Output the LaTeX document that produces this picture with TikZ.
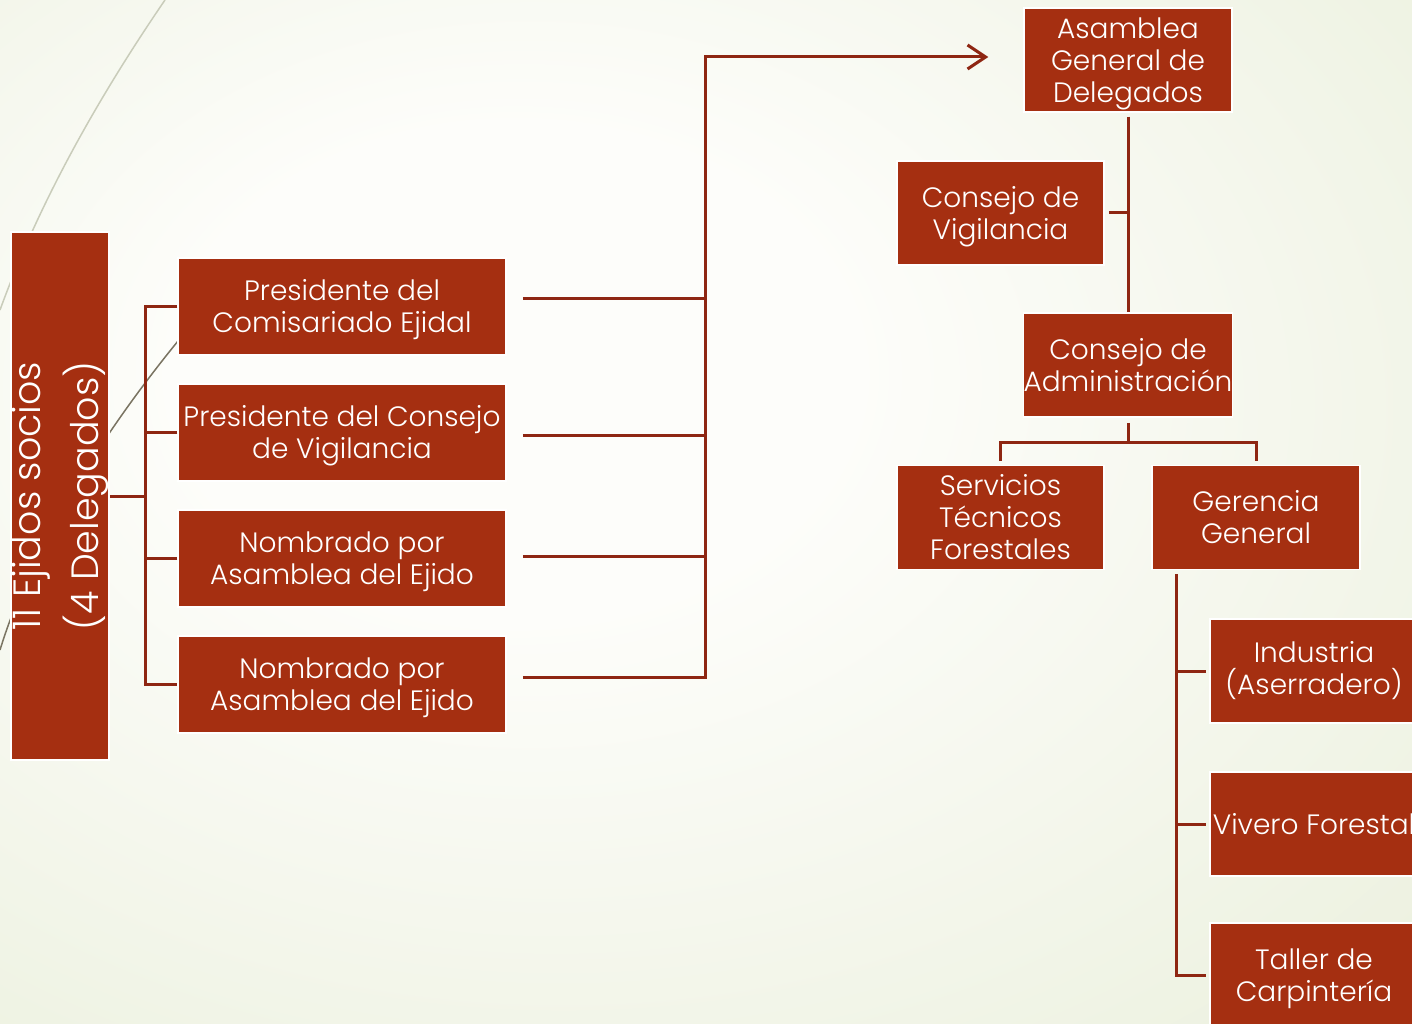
\documentclass[tikz,border=0pt]{standalone}
\usepackage{fontspec}
\setmainfont{Poppins Light}
\usetikzlibrary{arrows.meta,calc}
\definecolor{boxred}{HTML}{A52F11}
\definecolor{linered}{HTML}{8E2612}
\definecolor{bgouter}{HTML}{E0E8CC}
\definecolor{bginner}{HTML}{FDFDFA}
\definecolor{wisplight}{HTML}{C9CCBA}
\definecolor{wispdark}{HTML}{7A7462}
\pgfdeclareradialshading{bgshade}{\pgfpoint{-8bp}{8bp}}{color(0bp)=(bginner); color(12bp)=(bginner); color(60bp)=(bgouter); color(80bp)=(bgouter)}
\newcommand{\lowtext}[1]{\raisebox{-4pt}[\height][\depth]{\begin{tabular}{@{}c@{}}#1\end{tabular}}}
\begin{document}
\begin{tikzpicture}[x=1pt,y=-1pt,
  box/.style={draw=white, line width=1.5pt, fill=boxred, text=white, align=center,
    inner sep=0pt, minimum width=208pt, minimum height=104pt,
    font=\fontsize{28}{32}\selectfont},
  pbox/.style={box, minimum width=328pt, minimum height=97pt},
  conn/.style={draw=linered, line width=3pt},
  wisp/.style={line width=1.5pt}]
\useasboundingbox (0,0) rectangle (1412,1024);
\clip (0,0) rectangle (1412,1024);
\shade[shading=bgshade] (0,0) rectangle (1412,1024);
% decorative wisps
\draw[wisp, draw=wisplight] (165,0) .. controls (100,95) and (40,200) .. (0,310);
\draw[wisp, draw=wispdark] (178,341) .. controls (130,400) and (40,520) .. (0,650);

% left column
\node[box, rotate=90, minimum width=528pt, minimum height=98pt,
  font=\fontsize{38}{58}\selectfont] (ej) at (60,496) {11 Ejidos socios\\(4 Delegados)};

% second column
\node[pbox] (p1) at (342,306.5) {\lowtext{Presidente del\\Comisariado Ejidal}};
\node[pbox] (p2) at (342,432.5) {\lowtext{Presidente del Consejo\\de Vigilancia}};
\node[pbox] (p3) at (342,558.5) {\lowtext{Nombrado por\\Asamblea del Ejido}};
\node[pbox] (p4) at (342,684.5) {\lowtext{Nombrado por\\Asamblea del Ejido}};

% right tree
\node[box] (ag) at (1128,60) {\lowtext{Asamblea\\General de\\Delegados}};
\node[box, minimum width=207pt] (cv) at (1000.5,213) {\lowtext{Consejo de\\Vigilancia}};
\node[box] (ca) at (1128,365) {Consejo de\\Administración};
\node[box, minimum width=207pt] (st) at (1000.5,517.5) {Servicios\\Técnicos\\Forestales};
\node[box] (gg) at (1256,517.5) {Gerencia\\General};
\node[box] (in) at (1314,671) {Industria\\(Aserradero)};
\node[box] (vf) at (1314,824) {Vivero Forestal};
\node[box] (tc) at (1314,975) {\lowtext{Taller de\\Carpintería}};

% left bus (ej.south is the right side of the rotated box)
\coordinate (busx) at (145,0);
\draw[conn] (ej.south) -- (ej.south -| busx);
\draw[conn] (p1.west) -- (p1.west -| busx) -- (p4.west -| busx) -- (p4.west);
\draw[conn] (p2.west) -- (p2.west -| busx);
\draw[conn] (p3.west) -- (p3.west -| busx);

% right bus to Asamblea
\coordinate (rbus) at (705,0);
\coordinate (r1) at ($(p1.east)+(16,-8.5)$);
\coordinate (r2) at ($(p2.east)+(16,2.5)$);
\coordinate (r3) at ($(p3.east)+(16,-2.5)$);
\coordinate (r4) at ($(p4.east)+(16,-7.5)$);
\coordinate (tip) at ($(ag.west)+(-35,-3)$);
\draw[conn] (r1) -- (r1 -| rbus);
\draw[conn] (r2) -- (r2 -| rbus);
\draw[conn] (r3) -- (r3 -| rbus);
\draw[conn, -{Straight Barb[length=18pt,width=24pt,line width=3pt]}] (r4) -- (r4 -| rbus) |- (tip);

% Asamblea -> Consejo de Administracion, with Consejo de Vigilancia
\draw[conn, shorten <=4pt] (ag.south) -- (ca.north);
\draw[conn, shorten <=4pt] (cv.east) -- (cv.east -| ag.south);

% Consejo de Administracion -> children
\coordinate (hb) at (0,442);
\draw[conn, shorten <=5pt, shorten >=4pt] (ca.south) -- (ca.south |- hb) -| (st.north);
\draw[conn, shorten >=4pt] (ca.south |- hb) -| (gg.north);

% Gerencia -> departments
\coordinate (gx) at (1176,0);
\draw[conn] ($(gg.south -| gx)+(0,4)$) -- (tc.west -| gx) -- ($(tc.west)+(-3,0)$);
\draw[conn] (in.west -| gx) -- ($(in.west)+(-3,0)$);
\draw[conn] (vf.west -| gx) -- ($(vf.west)+(-3,0)$);
\end{tikzpicture}
\end{document}
